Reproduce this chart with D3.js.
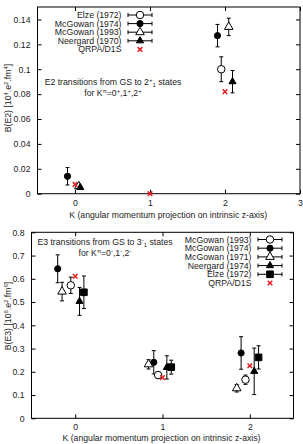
<!DOCTYPE html>
<html><head><meta charset="utf-8">
<script src="https://cdn.jsdelivr.net/npm/d3@7"></script>
<style>
body{margin:0;background:#fff;}
svg{display:block;}
text{font-family:"Liberation Sans",Arial,sans-serif;fill:#222;}
</style></head><body>
<svg id="c" width="303" height="444"></svg>
<script>
// ---------- Top panel: E2 ----------
const e2Ticks = [0, 0.02, 0.04, 0.06, 0.08, 0.1, 0.12, 0.14];
const e2KTicks = [0, 1, 2, 3];
const e2Labels = ["Elze (1972)", "McGowan (1974)", "McGowan (1993)", "Neergard (1970)", "QRPA/D1S"];
const e2Symbols = ["openCircle", "filledCircle", "openTriangle", "filledTriangle", "cross"];
const e2ElzeK = [1.95], e2ElzeB = [0.100], e2ElzeErr = [0.010];
const e2McG74K = [-0.1, 1.9], e2McG74B = [0.014, 0.127], e2McG74Err = [0.007, 0.009];
const e2McG93K = [0.05, 2.05], e2McG93B = [0.006, 0.134], e2McG93Err = [0.0, 0.007];
const e2NeerK = [0.07, 2.1], e2NeerB = [0.005, 0.090], e2NeerErr = [0.0, 0.009];
const e2QrpaK = [0, 1, 2], e2QrpaB = [0.0075, 0.0, 0.082];

// ---------- Bottom panel: E3 ----------
const e3Ticks = [0, 0.1, 0.2, 0.3, 0.4, 0.5, 0.6, 0.7, 0.8];
const e3KTicks = [0, 1, 2];
const e3Labels = ["McGowan (1993)", "McGowan (1974)", "McGowan (1971)", "Neergard (1974)", "Elze (1972)", "QRPA/D1S"];
const e3Symbols = ["openCircle", "filledCircle", "openTriangle", "filledTriangle", "filledSquare", "cross"];
const e3McG93K = [-0.05, 0.95, 1.95], e3McG93B = [0.572, 0.186, 0.166], e3McG93Err = [0.035, 0.015, 0.02];
const e3McG74K = [-0.2, 0.9, 1.9], e3McG74B = [0.643, 0.241, 0.281], e3McG74Err = [0.06, 0.05, 0.07];
const e3McG71K = [-0.15, 0.84, 1.85], e3McG71B = [0.545, 0.232, 0.129], e3McG71Err = [0.04, 0.02, 0.016];
const e3NeerK = [0.05, 1.05, 2.05], e3NeerB = [0.503, 0.219, 0.202], e3NeerErr = [0.06, 0.05, 0.10];
const e3ElzeK = [0.1, 1.1, 2.1], e3ElzeB = [0.542, 0.220, 0.262], e3ElzeErr = [0.07, 0.03, 0.05];
const e3QrpaK = [0, 1, 2], e3QrpaB = [0.611, 0.175, 0.226];

const svg = d3.select("#c");
const FS = 8.7;

function marker(g, type, x, y) {
  if (type === "cross") {
    const s = 2.3;
    g.append("path").attr("d", `M${x-s},${y-s}L${x+s},${y+s}M${x-s},${y+s}L${x+s},${y-s}`)
      .attr("stroke", "#e41a1c").attr("stroke-width", 1.5).attr("fill", "none");
    return;
  }
  let sym, size, fill;
  switch (type) {
    case "openCircle": sym = d3.symbolCircle; size = 44; fill = "#fff"; break;
    case "filledCircle": sym = d3.symbolCircle; size = 30; fill = "#000"; break;
    case "openTriangle": sym = d3.symbolTriangle; size = 32; fill = "#fff"; break;
    case "filledTriangle": sym = d3.symbolTriangle; size = 22; fill = "#000"; break;
    case "filledSquare": sym = d3.symbolSquare; size = 44; fill = "#000"; break;
  }
  g.append("path").attr("d", d3.symbol(sym, size)()).attr("transform", `translate(${x},${y})`)
    .attr("fill", fill).attr("stroke", "#000").attr("stroke-width", 1);
}

function errbar(g, x, y0, y1) {
  g.append("path").attr("d", `M${x},${y0}V${y1}M${x-2},${y0}H${x+2}M${x-2},${y1}H${x+2}`)
    .attr("stroke", "#000").attr("stroke-width", 1).attr("fill", "none");
}

function panel(opt) {
  const x = d3.scaleLinear().domain(opt.xDomain).range([opt.left, opt.right]);
  const y = d3.scaleLinear().domain(opt.yDomain).range([opt.bottom, opt.top]);
  const g = svg.append("g");
  g.append("rect").attr("x", opt.left).attr("y", opt.top)
    .attr("width", opt.right - opt.left).attr("height", opt.bottom - opt.top)
    .attr("fill", "none").attr("stroke", "#000").attr("stroke-width", 1);
  const ax = g.append("g").attr("transform", `translate(0,${opt.bottom})`)
    .call(d3.axisBottom(x).tickValues(opt.xTicks).tickSizeInner(-4).tickSizeOuter(0).tickPadding(6).tickFormat(d3.format("d")));
  const axT = g.append("g").attr("transform", `translate(0,${opt.top})`)
    .call(d3.axisTop(x).tickValues(opt.xTicks).tickSizeInner(-4).tickSizeOuter(0).tickFormat(""));
  const ay = g.append("g").attr("transform", `translate(${opt.left},0)`)
    .call(d3.axisLeft(y).tickValues(opt.yTicks).tickSizeInner(-4).tickSizeOuter(0).tickPadding(7).tickFormat(d => d === 0 ? "0" : d3.format("")(+d.toFixed(2))));
  const ayR = g.append("g").attr("transform", `translate(${opt.right},0)`)
    .call(d3.axisRight(y).tickValues(opt.yTicks).tickSizeInner(-4).tickSizeOuter(0).tickFormat(""));
  [ax, axT, ay, ayR].forEach(a => { a.select(".domain").remove(); a.selectAll("line").attr("stroke", "#000"); a.selectAll("text").attr("font-size", FS).attr("fill", "#222").attr("font-family", "Liberation Sans, Arial, sans-serif"); });
  g.append("text").attr("x", (opt.left + opt.right) / 2 + opt.xTitleDx).attr("y", opt.xTitleY).attr("text-anchor", "middle")
    .attr("font-size", FS).text("K (angular momentum projection on intrinsic z-axis)");
  const yt = g.append("text").attr("transform", `translate(${opt.yTitleX},${opt.yTitleY}) rotate(-90)`)
    .attr("text-anchor", "middle").attr("font-size", FS);
  yt.append("tspan").text(`B(E${opt.L}) [10`);
  yt.append("tspan").attr("dy", -3).attr("font-size", 6).text(opt.pw);
  yt.append("tspan").attr("dy", 3).text(".e");
  yt.append("tspan").attr("dy", -3).attr("font-size", 6).text("2");
  yt.append("tspan").attr("dy", 3).text(".fm");
  yt.append("tspan").attr("dy", -3).attr("font-size", 6).text(opt.pw);
  yt.append("tspan").attr("dy", 3).text("]");
  const a1 = g.append("text").attr("x", opt.annX).attr("y", opt.annY).attr("text-anchor", "middle").attr("font-size", FS);
  a1.append("tspan").text(`E${opt.L} transitions from GS to ${opt.L}`);
  a1.append("tspan").attr("dy", -3).attr("font-size", 6).text(opt.par);
  a1.append("tspan").attr("dy", 5).attr("font-size", 6).text("1");
  a1.append("tspan").attr("dy", -2).text(" states");
  const a2 = g.append("text").attr("x", opt.annX).attr("y", opt.annY + 11).attr("text-anchor", "middle").attr("font-size", FS);
  a2.append("tspan").text("for K");
  a2.append("tspan").attr("dy", -3).attr("font-size", 6).text("π");
  a2.append("tspan").attr("dy", 3).text("=0");
  a2.append("tspan").attr("dy", -3).attr("font-size", 6).text(opt.par);
  a2.append("tspan").attr("dy", 3).text(",1");
  a2.append("tspan").attr("dy", -3).attr("font-size", 6).text(opt.par);
  a2.append("tspan").attr("dy", 3).text(",2");
  a2.append("tspan").attr("dy", -3).attr("font-size", 6).text(opt.par);
  const dg = g.append("g");
  opt.series.forEach(s => {
    s.k.forEach((k, i) => {
      const cx = x(k);
      if (s.err && s.err[i] > 0) errbar(dg, cx, y(s.b[i] + s.err[i]), y(s.b[i] - s.err[i]));
    });
  });
  opt.series.forEach(s => {
    s.k.forEach((k, i) => marker(dg, s.sym, x(k), y(s.b[i])));
  });
  const lg = g.append("g");
  opt.series.forEach((s, i) => {
    const ly = opt.legY + i * opt.legDy;
    lg.append("text").attr("x", opt.legTextX).attr("y", ly + 3).attr("text-anchor", "end").attr("font-size", FS).text(s.label);
    const sx = opt.legTextX + 18.5;
    if (s.sym !== "cross") {
      lg.append("path").attr("d", `M${sx-12},${ly}H${sx+12}M${sx-12},${ly-2}V${ly+2}M${sx+12},${ly-2}V${ly+2}`)
        .attr("stroke", "#000").attr("stroke-width", 1).attr("fill", "none");
    }
    marker(lg, s.sym, sx, ly);
  });
}

panel({
  xDomain: [-0.5, 3], yDomain: [0, 0.15], left: 37.5, right: 300, top: 7, bottom: 193.7,
  xTicks: e2KTicks, yTicks: e2Ticks, xTitleY: 217.5, xTitleDx: -0.5, yTitleX: 11, yTitleY: 98,
  L: 2, pw: "4", par: "+", annX: 113, annY: 84.5,
  legTextX: 121.5, legY: 15, legDy: 8.6,
  series: [
    { label: e2Labels[0], sym: e2Symbols[0], k: e2ElzeK, b: e2ElzeB, err: e2ElzeErr },
    { label: e2Labels[1], sym: e2Symbols[1], k: e2McG74K, b: e2McG74B, err: e2McG74Err },
    { label: e2Labels[2], sym: e2Symbols[2], k: e2McG93K, b: e2McG93B, err: e2McG93Err },
    { label: e2Labels[3], sym: e2Symbols[3], k: e2NeerK, b: e2NeerB, err: e2NeerErr },
    { label: e2Labels[4], sym: e2Symbols[4], k: e2QrpaK, b: e2QrpaB, err: null }
  ]
});

panel({
  xDomain: [-0.5, 2.5], yDomain: [0, 0.8], left: 31.5, right: 293.5, top: 232.3, bottom: 418.3,
  xTicks: e3KTicks, yTicks: e3Ticks, xTitleY: 441, xTitleDx: -1, yTitleX: 11, yTitleY: 316,
  L: 3, pw: "6", par: "-", annX: 105, annY: 245,
  legTextX: 251.5, legY: 239.5, legDy: 8.7,
  series: [
    { label: e3Labels[0], sym: e3Symbols[0], k: e3McG93K, b: e3McG93B, err: e3McG93Err },
    { label: e3Labels[1], sym: e3Symbols[1], k: e3McG74K, b: e3McG74B, err: e3McG74Err },
    { label: e3Labels[2], sym: e3Symbols[2], k: e3McG71K, b: e3McG71B, err: e3McG71Err },
    { label: e3Labels[3], sym: e3Symbols[3], k: e3NeerK, b: e3NeerB, err: e3NeerErr },
    { label: e3Labels[4], sym: e3Symbols[4], k: e3ElzeK, b: e3ElzeB, err: e3ElzeErr },
    { label: e3Labels[5], sym: e3Symbols[5], k: e3QrpaK, b: e3QrpaB, err: null }
  ]
});
</script>
</body></html>
